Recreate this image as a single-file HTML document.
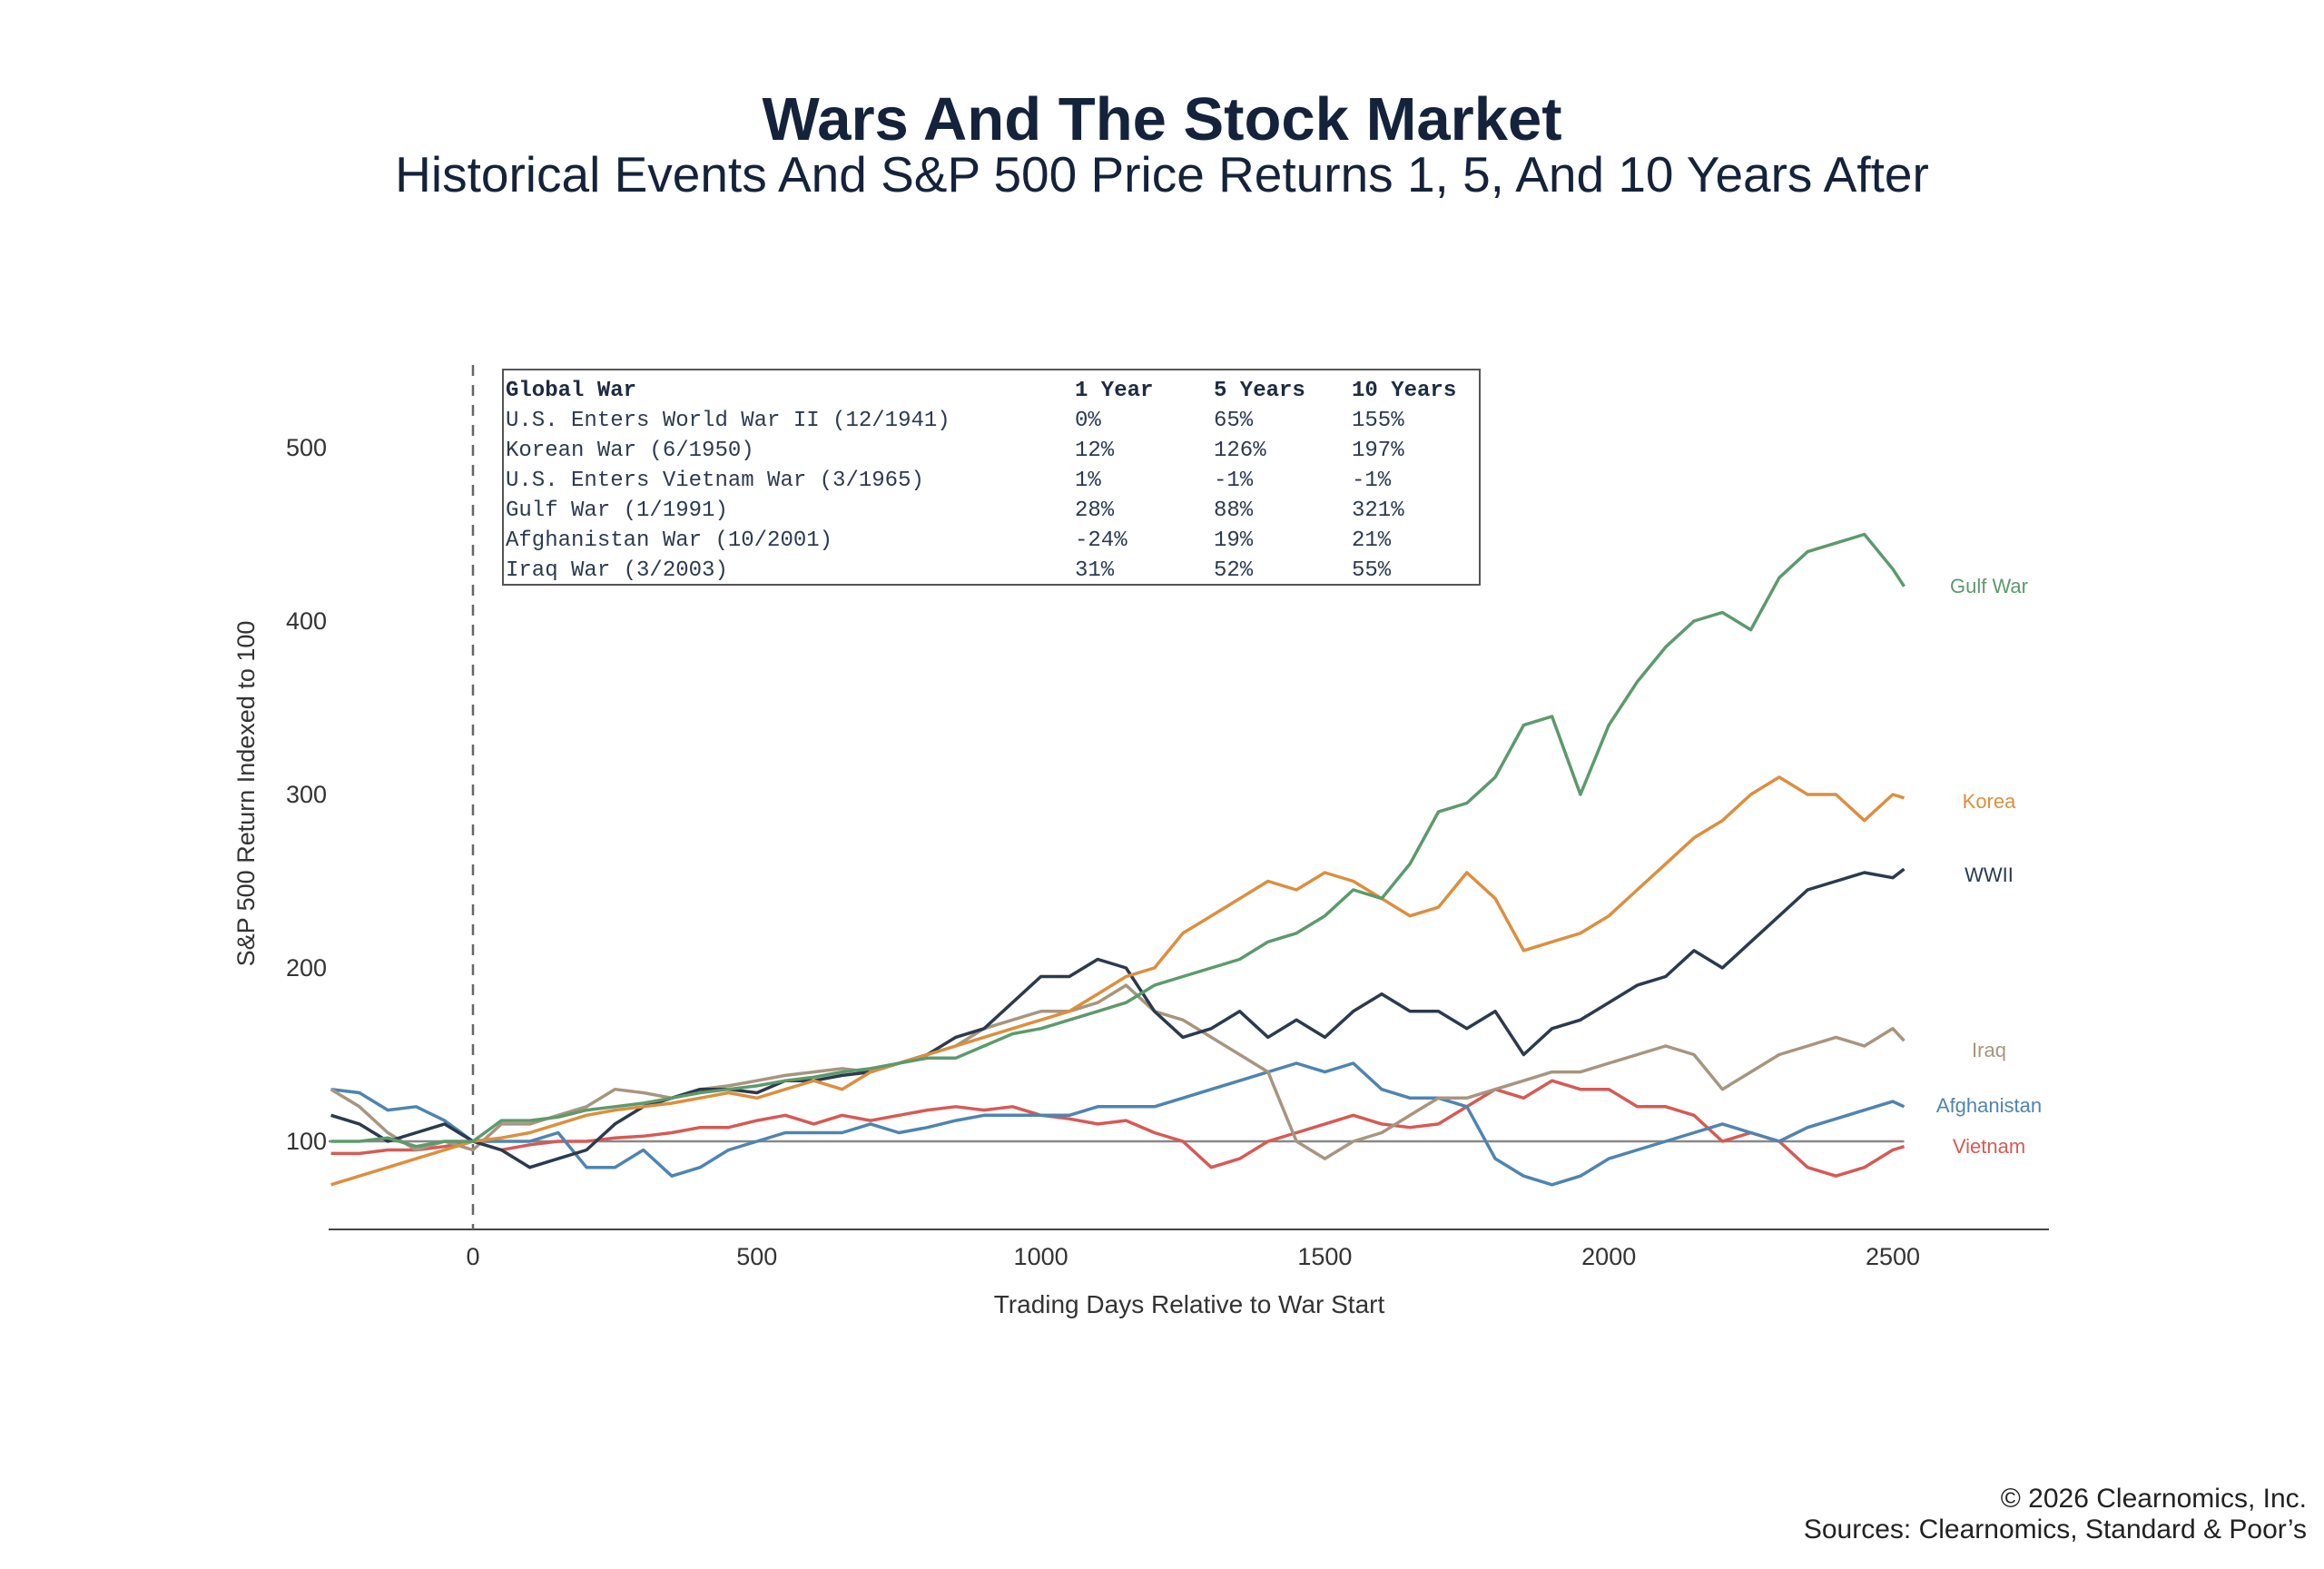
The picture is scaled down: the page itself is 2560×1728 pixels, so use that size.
<!DOCTYPE html>
<html><head><meta charset="utf-8"><style>
html,body{margin:0;padding:0;background:#fff;}
svg{display:block;}
</style></head><body>
<svg id="chart" width="2560" height="1728" viewBox="0 0 2560 1728" xmlns="http://www.w3.org/2000/svg" font-family="Liberation Sans, sans-serif">
<text x="1280" y="154" text-anchor="middle" font-size="67" font-weight="bold" fill="#14233b">Wars And The Stock Market</text>
<text x="1280" y="211" text-anchor="middle" font-size="55" fill="#14233b">Historical Events And S&amp;P 500 Price Returns 1, 5, And 10 Years After</text>
<g id="axes"></g>
<g id="series"></g>
<g id="table">
<rect x="554" y="407" width="1076" height="237" fill="#fff" stroke="#555" stroke-width="2"/>
</g>
<text transform="translate(280,874) rotate(-90)" text-anchor="middle" font-size="27" fill="#333">S&amp;P 500 Return Indexed to 100</text>
<text x="1310" y="1446" text-anchor="middle" font-size="28" fill="#333">Trading Days Relative to War Start</text>
<text x="2541" y="1660" text-anchor="end" font-size="30" fill="#222">© 2026 Clearnomics, Inc.</text>
<text x="2541" y="1694" text-anchor="end" font-size="30" fill="#222">Sources: Clearnomics, Standard &amp; Poor’s</text>
</svg>
<script>
const days = [-250,-200,-150,-100,-50,0,50,100,150,200,250,300,350,400,450,500,550,600,650,700,750,800,850,900,950,1000,1050,1100,1150,1200,1250,1300,1350,1400,1450,1500,1550,1600,1650,1700,1750,1800,1850,1900,1950,2000,2050,2100,2150,2200,2250,2300,2350,2400,2450,2500,2520];
const gulf = [100,100,102,97,100,100,112,112,114,118,120,122,125,128,130,132,135,137,140,142,145,148,148,155,162,165,170,175,180,190,195,200,205,215,220,230,245,240,260,290,295,310,340,345,300,340,365,385,400,405,395,425,440,445,450,430,420];
const korea = [75,80,85,90,95,100,102,105,110,115,118,120,122,125,128,125,130,135,130,140,145,150,155,160,165,170,175,185,195,200,220,230,240,250,245,255,250,240,230,235,255,240,210,215,220,230,245,260,275,285,300,310,300,300,285,300,298];
const wwii = [115,110,100,105,110,100,95,85,90,95,110,120,125,130,130,128,135,135,138,140,145,150,160,165,180,195,195,205,200,175,160,165,175,160,170,160,175,185,175,175,165,175,150,165,170,180,190,195,210,200,215,230,245,250,255,252,257];
const iraq = [130,120,105,95,100,95,110,110,115,120,130,128,125,130,132,135,138,140,142,140,145,150,155,165,170,175,175,180,190,175,170,160,150,140,100,90,100,105,115,125,125,130,135,140,140,145,150,155,150,130,140,150,155,160,155,165,158];
const afghanistan = [130,128,118,120,112,100,100,100,105,85,85,95,80,85,95,100,105,105,105,110,105,108,112,115,115,115,115,120,120,120,125,130,135,140,145,140,145,130,125,125,120,90,80,75,80,90,95,100,105,110,105,100,108,113,118,123,120];
const vietnam = [93,93,95,95,97,100,95,98,100,100,102,103,105,108,108,112,115,110,115,112,115,118,120,118,120,115,113,110,112,105,100,85,90,100,105,110,115,110,108,110,120,130,125,135,130,130,120,120,115,100,105,100,85,80,85,95,97];
const seriesNames = ["Vietnam","Afghanistan","Iraq","WWII","Korea","Gulf War"];
const yTicks = [100,200,300,400,500];
const xTicks = [0,500,1000,1500,2000,2500];
const tableHeader = ["Global War","1 Year","5 Years","10 Years"];
const tableRows = [
 ["U.S. Enters World War II (12/1941)","0%","65%","155%"],
 ["Korean War (6/1950)","12%","126%","197%"],
 ["U.S. Enters Vietnam War (3/1965)","1%","-1%","-1%"],
 ["Gulf War (1/1991)","28%","88%","321%"],
 ["Afghanistan War (10/2001)","-24%","19%","21%"],
 ["Iraq War (3/2003)","31%","52%","55%"]
];
const NS="http://www.w3.org/2000/svg";
const X0=362,X1=2257,Yax=1354;
function xs(d){return 521+(d/500)*312.8;}
function ys(v){return 1257-(v-100)*1.91;}
function mk(tag,attrs,parent,text){const e=document.createElementNS(NS,tag);for(const k in attrs)e.setAttribute(k,attrs[k]);if(text!==undefined)e.textContent=text;parent.appendChild(e);return e;}
const axes=document.getElementById('axes');
let e;
e=mk('line',{x1:X0,x2:X1,y1:Yax,y2:Yax,stroke:'#444','stroke-width':2},axes);


e=mk('line',{x1:xs(0),x2:xs(0),y1:402,y2:Yax,stroke:'#666','stroke-width':2.5,'stroke-dasharray':'12,10'},axes);


e=mk('line',{x1:X0,x2:xs(2520),y1:ys(100),y2:ys(100),stroke:'#888','stroke-width':2.5},axes);


yTicks.forEach(t=>{
 const el=mk('text',{x:360,y:ys(t)+9,'text-anchor':'end','font-size':27,fill:'#333'},axes,String(t));
 
 
});
xTicks.forEach(t=>{
 const el=mk('text',{x:xs(t),y:1393,'text-anchor':'middle','font-size':27,fill:'#333'},axes,String(t));
 
 
});
const sg=document.getElementById('series');
const data=[vietnam,afghanistan,iraq,wwii,korea,gulf];
const colors=["#d65a55","#4f84b0","#a8957f","#2b3a4d","#dc8f3e","#5c9a6c"];
data.forEach((arr,i)=>{
 const d=arr.map((v,j)=>(j?'L':'M')+xs(days[j]).toFixed(1)+','+ys(v).toFixed(1)).join(' ');
 const p=mk('path',{d:d,fill:'none',stroke:colors[i],'stroke-width':3.5,'stroke-linejoin':'round'},sg);
 
 
});
const labelY={"Gulf War":645,"Korea":882,"WWII":963,"Iraq":1156,"Afghanistan":1217,"Vietnam":1262};
seriesNames.forEach((n,i)=>{
 const t=mk('text',{x:2191,y:labelY[n]+8,'text-anchor':'middle','font-size':22,fill:colors[i]},sg,n);
 
 
});
const tb=document.getElementById('table');
const colX=[557,1184,1337,1489];
const mono='Liberation Mono, monospace';
tableHeader.forEach((h,c)=>{
 const t=mk('text',{x:colX[c],y:436,'font-size':24,'font-family':mono,'font-weight':'bold',fill:'#1e2b40'},tb,h);
 
 
});
tableRows.forEach((r,ri)=>{
 r.forEach((v,c)=>{
  const t=mk('text',{x:colX[c],y:469+ri*33,'font-size':24,'font-family':mono,fill:'#2c3a50'},tb,v);
  
  
 });
});
</script>
</body></html>
